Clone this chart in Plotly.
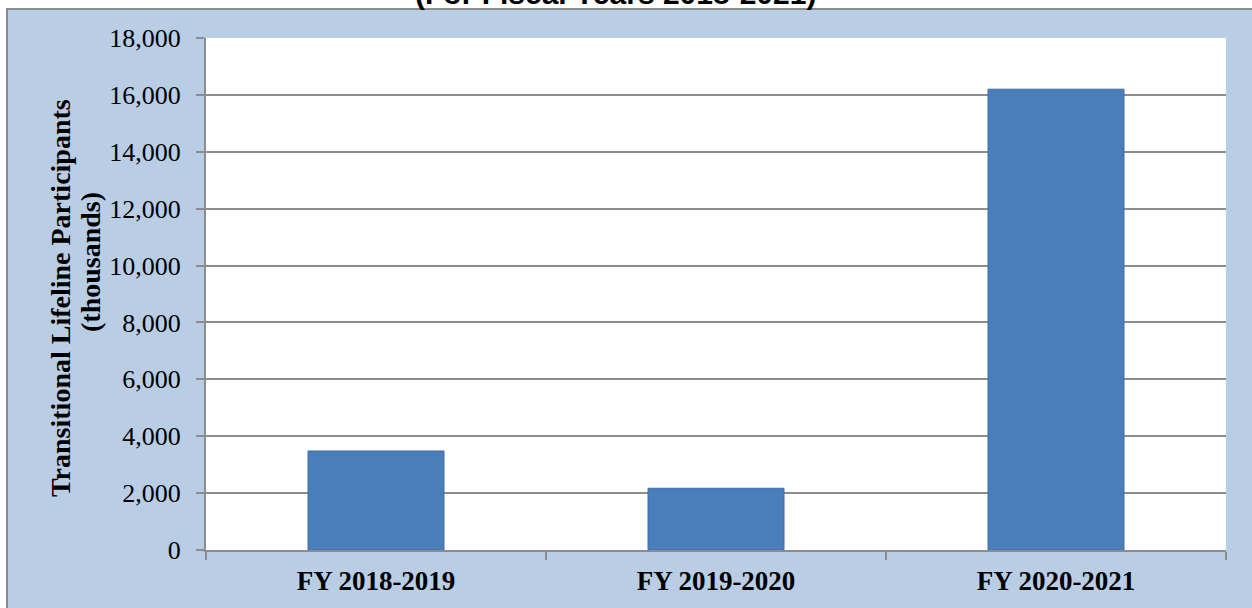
import plotly.graph_objects as go

# ---------------------------------------------------------------------------
# Data
# ---------------------------------------------------------------------------
fiscal_years = ["FY 2018-2019", "FY 2019-2020", "FY 2020-2021"]
participants = [3480, 2170, 16200]          # thousands

y_tick_vals = [0, 2000, 4000, 6000, 8000, 10000, 12000, 14000, 16000, 18000]
y_tick_text = [f"{v:,}" for v in y_tick_vals]

# ---------------------------------------------------------------------------
# Styling
# ---------------------------------------------------------------------------
BG_BLUE   = "#b9cde5"
BAR_BLUE  = "#4a7ebb"
BAR_EDGE  = "#3f6ea6"
GRID_GRAY = "#8c8c8c"
SERIF     = "Liberation Serif, Times New Roman, serif"
SANS      = "Liberation Sans, Arial, sans-serif"

W, H = 1252, 608
L, R, T, B = 206, 26, 38, 58
PW, PH = W - L - R, H - T - B


def px_x(px):
    return (px - L) / PW


def px_y(py):
    return (H - B - py) / PH


fig = go.Figure()

fig.add_trace(go.Bar(
    x=fiscal_years,
    y=participants,
    width=0.4,
    marker=dict(color=BAR_BLUE, line=dict(color=BAR_EDGE, width=1)),
    hoverinfo="skip",
    showlegend=False,
))

# light-blue chart area with grey frame, white plot area on top of it
fig.add_shape(
    type="rect", xref="paper", yref="paper", layer="below",
    x0=px_x(7), x1=px_x(W + 5), y0=px_y(H + 5), y1=px_y(9),
    fillcolor=BG_BLUE, line=dict(color=GRID_GRAY, width=2),
)
fig.add_shape(
    type="rect", xref="paper", yref="paper", layer="below",
    x0=0, x1=1, y0=0, y1=1,
    fillcolor="white", line=dict(width=0),
)

# title, cut at the top of the frame
fig.add_annotation(
    xref="paper", yref="paper",
    x=px_x(615), y=px_y(-7),
    text="<b>(For Fiscal Years 2018-2021)</b>",
    showarrow=False, xanchor="center", yanchor="middle",
    font=dict(family=SANS, size=30, color="black"),
)

# y-axis title (two lines, rotated)
fig.add_annotation(
    xref="paper", yref="paper",
    x=px_x(60), y=px_y(298),
    text="<b>Transitional Lifeline Participants</b>",
    textangle=-90, showarrow=False, xanchor="center", yanchor="middle",
    font=dict(family=SERIF, size=28, color="black"),
)
fig.add_annotation(
    xref="paper", yref="paper",
    x=px_x(90), y=px_y(262),
    text="<b>(thousands)</b>",
    textangle=-90, showarrow=False, xanchor="center", yanchor="middle",
    font=dict(family=SERIF, size=28, color="black"),
)

fig.update_layout(
    width=W, height=H,
    margin=dict(l=L, r=R, t=T, b=B, autoexpand=False),
    paper_bgcolor="white",
    plot_bgcolor="white",
    xaxis=dict(
        showgrid=False, zeroline=False,
        showline=True, linecolor=GRID_GRAY, linewidth=2,
        ticks="outside", ticklen=8, tickcolor=GRID_GRAY, tickwidth=2,
        tickson="boundaries",
        ticklabelstandoff=6,
        tickfont=dict(family=SERIF, size=27, color="black", weight="bold"),
    ),
    yaxis=dict(
        range=[0, 18000],
        tickvals=y_tick_vals, ticktext=y_tick_text,
        showgrid=True, gridcolor=GRID_GRAY, gridwidth=1.5,
        zeroline=False,
        showline=True, linecolor=GRID_GRAY, linewidth=2,
        ticks="outside", ticklen=8, tickcolor=GRID_GRAY, tickwidth=2,
        ticklabelstandoff=10,
        tickfont=dict(family=SERIF, size=26, color="black"),
    ),
)

# drop the page's default 8px body margin so the figure sits at (0, 0)
fig.write_html(
    "out.html",
    config={"displayModeBar": False},
    post_script="document.body.style.margin='0';",
)
